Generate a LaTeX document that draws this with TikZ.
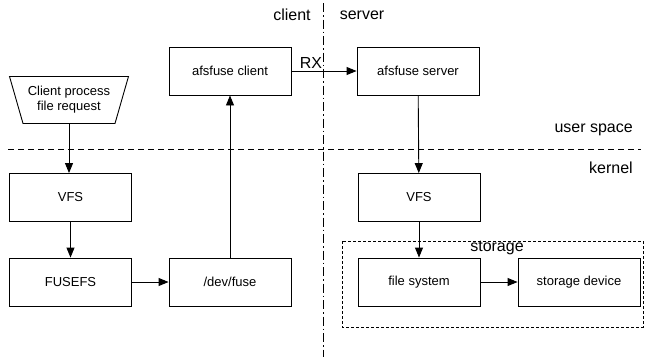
\documentclass[tikz,border=0pt]{standalone}
\usepackage{fontspec}
\setmainfont{Liberation Sans}
\usetikzlibrary{shapes.geometric,arrows.meta}
\begin{document}
\begin{tikzpicture}[x=1pt,y=-1pt,
  box/.style={draw,line width=0.9pt,minimum width=122pt,minimum height=48pt,inner sep=0pt,font=\fontsize{13}{15}\selectfont},
  proc/.style={draw,line width=0.9pt,trapezium,shape border rotate=180,trapezium stretches=true,
    trapezium left angle=66,trapezium right angle=66,minimum width=119pt,minimum height=47pt,
    inner sep=0pt,align=center,font=\fontsize{13}{15}\selectfont},
  lbl/.style={inner sep=0pt,font=\fontsize{16}{18}\selectfont},
  flow/.style={line width=0.9pt,-{Triangle[length=10pt,width=8pt]}},
  divider/.style={line width=0.9pt,dash pattern=on 6pt off 4pt},
  sidesplit/.style={line width=0.9pt,dash pattern=on 9pt off 3pt on 1.5pt off 3pt},
  group/.style={draw,line width=0.9pt,dash pattern=on 3pt off 2pt}]
\useasboundingbox (0,0) rectangle (648,360);

% boundaries between client/server and user space/kernel
\coordinate (divL) at (8,149);
\coordinate (divR) at (641,149);
\draw[divider] (divL) -- (divR);
\coordinate (splitT) at (323,3);
\coordinate (splitB) at (323,357);
\draw[sidesplit] (splitT) -- (splitB);

% storage group
\coordinate (stA) at (342,241);
\coordinate (stB) at (643,327);
\draw[group] (stA) rectangle (stB);

% region labels
\node[lbl] (lclient) at (292,15) {client};
\node[lbl] (lserver) at (362,15) {server};
\node[lbl,anchor=east] (luser) at (633,130) {user space};
\node[lbl,anchor=east] (lkernel) at (633,168) {kernel};
\node[lbl] (lstorage) at (497,248) {storage};

% client side
\node[proc] (req) at (69,100) {Client process\\file request};
\node[box] (vfsc) at (70.5,197.5) {VFS};
\node[box] (fusefs) at (70.5,282) {FUSEFS};
\node[box] (devfuse) at (230,282) {/dev/fuse};
\node[box] (afsc) at (230,71) {afsfuse client};

% server side
\node[box] (afss) at (418,71) {afsfuse server};
\node[box] (vfss) at (419,197.5) {VFS};
\node[box] (fsys) at (419,282) {file system};
\node[box] (sdev) at (579,282) {storage device};

% flow
\draw[flow] (req.south) -- (req.south |- vfsc.north);
\draw[flow] (vfsc) -- (fusefs);
\draw[flow] (fusefs) -- (devfuse);
\draw[flow] (devfuse) -- (afsc);
\draw[flow] (afsc) -- (afss);
\node[lbl] (rx) at (311,63) {RX};
\draw[flow] (afss) -- (vfss);
\draw[flow] (vfss) -- (fsys);
\draw[flow] (fsys) -- (sdev);
\end{tikzpicture}
\end{document}
